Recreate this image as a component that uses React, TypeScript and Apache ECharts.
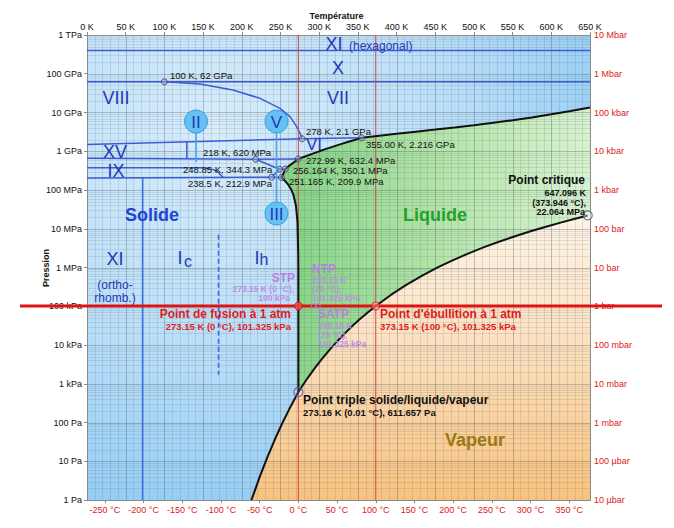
import { useEffect, useRef } from 'react';
import * as echarts from 'echarts';

const FONT = '"Liberation Sans", Arial, Helvetica, sans-serif';

// ---------- axis ticks / labels ----------
const celsiusTicks = [-250, -200, -150, -100, -50, 0, 50, 100, 150, 200, 250, 300, 350];
const pressureTicksPa = [1, 10, 100, 1e3, 1e4, 1e5, 1e6, 1e7, 1e8, 1e9, 1e10, 1e11, 1e12];
const pascalLabels = ['1 Pa', '10 Pa', '100 Pa', '1 kPa', '10 kPa', '100 kPa', '1 MPa', '10 MPa', '100 MPa', '1 GPa', '10 GPa', '100 GPa', '1 TPa'];
const barLabels = ['10 µbar', '100 µbar', '1 mbar', '10 mbar', '100 mbar', '1 bar', '10 bar', '100 bar', '1 kbar', '10 kbar', '100 kbar', '1 Mbar', '10 Mbar'];

// ---------- phase curves [T (K), P (Pa)] ----------
const sublimationCurve = [[212.3, 1], [213.15, 1.08], [223.15, 3.94], [233.15, 12.84], [243.15, 38.0], [253.15, 103.3], [263.15, 259.9], [273.16, 611.657]];
const vaporizationCurve = [[273.16, 611.657], [283.15, 1228], [293.15, 2339], [303.15, 4246], [313.15, 7384], [323.15, 12350], [333.15, 19940], [343.15, 31190], [353.15, 47410], [363.15, 70140], [373.15, 101325], [393.15, 198500], [413.15, 361400], [433.15, 618200], [453.15, 1.002e6], [473.15, 1.554e6], [493.15, 2.318e6], [513.15, 3.345e6], [533.15, 4.692e6], [553.15, 6.416e6], [573.15, 8.588e6], [593.15, 11.28e6], [613.15, 14.6e6], [633.15, 18.67e6], [647.096, 22.064e6]];
const meltingIh = [[273.16, 611.657], [273.15, 1.01e5], [273.1, 8.07e5], [273, 2.14e6], [272, 1.51e7], [270, 3.93e7], [267, 7.22e7], [264.2, 1.0e8], [260, 1.383e8], [255, 1.794e8], [251.165, 2.099e8]];
const meltingIII = [[251.165, 2.099e8], [253, 2.44e8], [255, 3.03e8], [256.164, 3.501e8]];
const meltingV = [[256.164, 3.501e8], [260, 4.03e8], [265, 4.8e8], [270, 5.68e8], [272.99, 6.324e8]];
const meltingVI = [[272.99, 6.324e8], [280, 7.12e8], [290, 8.45e8], [300, 9.96e8], [310, 1.166e9], [320, 1.357e9], [330, 1.57e9], [340, 1.809e9], [355, 2.216e9]];
const meltingVII = [[355, 2.216e9], [375, 2.473e9], [400, 2.817e9], [425, 3.194e9], [450, 3.618e9], [475, 4.11e9], [500, 4.696e9], [525, 5.411e9], [550, 6.309e9], [575, 7.461e9], [600, 8.962e9], [625, 10.94e9], [650, 13.46e9]];

// ---------- solid-solid boundaries ----------
const boundaryXIhex_X = [[0, 4.0e11], [650, 4.0e11]];
const boundaryX_VII = [[0, 6.2e10], [650, 6.2e10]];
const boundaryVII_VIII = [[100, 6.2e10], [146, 5.44e10], [188.7, 3.81e10], [223.6, 2.32e10], [249.4, 1.28e10], [262.3, 7.8e9], [271, 4.3e9], [275.3, 2.9e9], [278, 2.1e9]];
const boundaryVIII_VI = [[0, 1.5e9], [278, 2.1e9]];
const boundaryVI_VII = [[278, 2.1e9], [355, 2.216e9]];
const boundaryXV_VI = [[129, 1.75e9], [129, 6.45e8]];
const boundaryVI_V = [[0, 6.6e8], [218, 6.2e8], [272.99, 6.324e8]];
const boundaryII_V = [[218, 6.2e8], [248.85, 3.443e8]];
const boundaryIII_V = [[248.85, 3.443e8], [256.164, 3.501e8]];
const boundaryII_III = [[238.5, 2.129e8], [248.85, 3.443e8]];
const boundaryIh_III = [[238.5, 2.129e8], [251.165, 2.099e8]];
const boundaryIh_II = [[0, 2.04e8], [238.5, 2.129e8]];
const boundaryIX = [[0, 3.76e8], [150, 3.76e8], [163, 3.4e8], [170, 2.8e8], [176, 2.1e8]];
const boundaryXI_Ih = [[72, 2.06e8], [72, 1]];
const boundaryIc_Ih = [[170, 7e6], [170, 1.7e3]];

// ---------- points ----------
const solidTriplePoints = [[100, 6.2e10], [278, 2.1e9], [355, 2.216e9], [218, 6.2e8], [272.99, 6.324e8], [248.85, 3.443e8], [256.164, 3.501e8], [238.5, 2.129e8], [251.165, 2.099e8]];
const criticalPoint = [[647.096, 22.064e6]];
const triplePointSLV = [[273.16, 611.657]];
const fusionPoint1atm = [[273.15, 101325]];
const boilingPoint1atm = [[373.15, 101325]];
const ntpSatpPoints = [[293.15, 101325], [298.15, 101325]];
const isothermsK = [273.15, 373.15];
const atmospherePa = 101325;

const blueLine = '#3d5bd2';

function lineSeries(data: number[][], color: string, width: number, type: any = 'solid', z = 3) {
  return {
    type: 'line', data, xAxisIndex: 0, yAxisIndex: 0, showSymbol: false, symbol: 'none',
    silent: true, lineStyle: { color, width, type }, z, clip: false,
  };
}

function txt(text: string, x: number, y: number, size: number, color: string, weight = 'normal', align = 'left', rotation = 0) {
  return {
    type: 'text', x, y, rotation, z: 100, silent: true,
    style: {
      text, fill: color, font: `${weight} ${size}px ${FONT}`,
      align, verticalAlign: 'middle', textAlign: align, textVerticalAlign: 'middle',
    },
  };
}

function badge(label: string, cx: number, cy: number) {
  return [
    { type: 'circle', z: 90, silent: true, shape: { cx, cy, r: 11.5 }, style: { fill: '#63c2f3', stroke: '#3a9be0', lineWidth: 1 } },
    txt(label, cx, cy + 0.5, 17, '#2438b8', 'normal', 'center'),
  ];
}

function stem(x: number, y1: number, y2: number) {
  return { type: 'line', z: 89, silent: true, shape: { x1: x, y1, x2: x, y2 }, style: { stroke: '#45a6ec', lineWidth: 1.6 } };
}

export default function App() {
  const ref = useRef<HTMLDivElement>(null);

  useEffect(() => {
    if (!ref.current) return;
    const chart = echarts.init(ref.current, undefined, { renderer: 'svg' });

    const pressureFmt = (labels: string[]) => (v: number) => labels[Math.round(Math.log10(v))] ?? '';
    const axisLineStyle = { color: '#8a8a8a', width: 1 };

    const regionSeries = {
      type: 'custom', xAxisIndex: 0, yAxisIndex: 0, silent: true, z: 1, data: [[100, 100]],
      renderItem: (params: any, api: any) => {
        const cs = params.coordSys;
        const pt = (p: number[]) => api.coord(p);
        const liquid = [
          ...meltingIh, ...meltingIII.slice(1), ...meltingV.slice(1), ...meltingVI.slice(1), ...meltingVII.slice(1),
          [650, criticalPoint[0][1]], ...[...vaporizationCurve].reverse(),
        ].map(pt);
        const vapour = [...sublimationCurve, ...vaporizationCurve.slice(1), [650, criticalPoint[0][1]], [650, 1]].map(pt);
        return {
          type: 'group',
          children: [
            {
              type: 'rect', shape: { x: cs.x, y: cs.y, width: cs.width, height: cs.height },
              style: {
                fill: new echarts.graphic.RadialGradient(0.25, 0.2, 0.95, [
                  { offset: 0, color: '#d6ecfb' }, { offset: 0.5, color: '#badef8' }, { offset: 1, color: '#89c7f2' },
                ]),
              },
            },
            {
              type: 'polygon', shape: { points: liquid },
              style: {
                fill: new echarts.graphic.LinearGradient(0, 0, 1, 0, [
                  { offset: 0, color: '#84d385' }, { offset: 0.5, color: '#b2e3a8' }, { offset: 1, color: '#d6f1cf' },
                ]),
              },
            },
            {
              type: 'polygon', shape: { points: vapour },
              style: {
                fill: new echarts.graphic.LinearGradient(0, 0, 0, 1, [
                  { offset: 0, color: '#fdf3e6' }, { offset: 0.45, color: '#fbe0c0' }, { offset: 1, color: '#f7c27e' },
                ]),
              },
            },
          ],
        };
      },
    };

    const gridSeries = {
      type: 'custom', xAxisIndex: 0, yAxisIndex: 0, silent: true, z: 2, data: [[100, 100]],
      renderItem: (params: any, api: any) => {
        const cs = params.coordSys;
        const children: any[] = [];
        for (let t = 0; t <= 650; t += 10) {
          const x = Math.round(api.coord([t, 1])[0]) + 0.5;
          children.push({
            type: 'line', shape: { x1: x, y1: cs.y, x2: x, y2: cs.y + cs.height },
            style: { stroke: t % 50 === 0 ? 'rgba(60,70,80,0.30)' : 'rgba(60,70,80,0.13)', lineWidth: 1 },
          });
        }
        for (let d = 0; d < 12; d++) {
          for (let k = 1; k <= 9; k++) {
            const y = Math.round(api.coord([0, k * Math.pow(10, d)])[1]) + 0.5;
            children.push({
              type: 'line', shape: { x1: cs.x, y1: y, x2: cs.x + cs.width, y2: y },
              style: { stroke: k === 1 ? 'rgba(60,70,80,0.30)' : 'rgba(60,70,80,0.12)', lineWidth: 1 },
            });
          }
        }
        children.push({
          type: 'rect', shape: { x: cs.x + 0.5, y: cs.y + 0.5, width: cs.width, height: cs.height },
          style: { fill: 'none', stroke: '#8a8a8a', lineWidth: 1 },
        });
        return { type: 'group', children };
      },
    };

    const isobarSeries = {
      type: 'custom', xAxisIndex: 0, yAxisIndex: 0, silent: true, z: 6, data: [[0, atmospherePa]],
      renderItem: (params: any, api: any) => {
        const cs = params.coordSys;
        const y = api.coord([0, atmospherePa])[1];
        return { type: 'line', shape: { x1: cs.x - 67, y1: y, x2: cs.x + cs.width + 72, y2: y }, style: { stroke: '#dd1414', lineWidth: 3 } };
      },
    };

    const option: any = {
      animation: false,
      textStyle: { fontFamily: FONT },
      grid: { left: 87, top: 35, width: 503, height: 465, containLabel: false },
      xAxis: [
        {
          type: 'value', position: 'top', min: 0, max: 650, interval: 50,
          axisLine: { show: true, lineStyle: axisLineStyle },
          axisTick: { show: true, length: 3, lineStyle: axisLineStyle },
          axisLabel: { fontSize: 9, color: '#111', margin: 4, fontFamily: FONT, formatter: (v: number) => `${v} K` },
          splitLine: { show: false },
        },
        {
          type: 'value', position: 'bottom', min: -273.15, max: 376.85,
          axisLine: { show: true, lineStyle: axisLineStyle },
          axisTick: { show: true, length: 3, lineStyle: axisLineStyle, customValues: celsiusTicks },
          axisLabel: { fontSize: 9, color: '#dd2020', margin: 5, fontFamily: FONT, customValues: celsiusTicks, formatter: (v: number) => `${v} °C` },
          splitLine: { show: false },
        },
      ],
      yAxis: [
        {
          type: 'log', logBase: 10, min: 1, max: 1e12, position: 'left',
          axisLine: { show: true, lineStyle: axisLineStyle },
          axisTick: { show: true, length: 3, lineStyle: axisLineStyle, customValues: pressureTicksPa },
          axisLabel: { fontSize: 9, color: '#111', margin: 5, fontFamily: FONT, customValues: pressureTicksPa, formatter: pressureFmt(pascalLabels) },
          splitLine: { show: false },
        },
        {
          type: 'log', logBase: 10, min: 1, max: 1e12, position: 'right',
          axisLine: { show: true, lineStyle: axisLineStyle },
          axisTick: { show: true, length: 3, lineStyle: axisLineStyle, customValues: pressureTicksPa },
          axisLabel: { fontSize: 9, color: '#dd2020', margin: 4, fontFamily: FONT, customValues: pressureTicksPa, formatter: pressureFmt(barLabels) },
          splitLine: { show: false },
        },
      ],
      series: [
        regionSeries,
        gridSeries,
        lineSeries(boundaryXIhex_X, blueLine, 1.5),
        lineSeries(boundaryX_VII, blueLine, 1.5),
        lineSeries(boundaryVII_VIII, blueLine, 1.5),
        lineSeries(boundaryVIII_VI, blueLine, 1.5),
        lineSeries(boundaryVI_VII, blueLine, 1.5),
        lineSeries(boundaryXV_VI, blueLine, 1.5),
        lineSeries(boundaryVI_V, blueLine, 1.5),
        lineSeries(boundaryII_V, blueLine, 1.5),
        lineSeries(boundaryIII_V, blueLine, 1.5),
        lineSeries(boundaryII_III, blueLine, 1.5),
        lineSeries(boundaryIh_III, blueLine, 1.5),
        lineSeries(boundaryIh_II, blueLine, 1.5),
        lineSeries(boundaryIX, blueLine, 1.5),
        lineSeries(boundaryXI_Ih, '#3b6ee6', 1.5),
        lineSeries(boundaryIc_Ih, '#3b6ee6', 1.6, [5, 3]),
        lineSeries([[isothermsK[0], 1], [isothermsK[0], 1e12]], '#d84545', 1, 'solid', 4),
        lineSeries([[isothermsK[1], 1], [isothermsK[1], 1e12]], '#d84545', 1, 'solid', 4),
        lineSeries(sublimationCurve, '#111', 2, 'solid', 5),
        lineSeries(vaporizationCurve, '#111', 2, 'solid', 5),
        lineSeries(meltingIh, '#111', 2, 'solid', 5),
        lineSeries(meltingIII, '#111', 2, 'solid', 5),
        lineSeries(meltingV, '#111', 2, 'solid', 5),
        lineSeries(meltingVI, '#111', 2, 'solid', 5),
        lineSeries(meltingVII, '#111', 2, 'solid', 5),
        isobarSeries,
        {
          type: 'scatter', data: solidTriplePoints, symbolSize: 6, silent: true, z: 8,
          itemStyle: { color: 'rgba(150,170,205,0.6)', borderColor: '#2f3c66', borderWidth: 1 },
        },
        {
          type: 'scatter', data: criticalPoint, symbolSize: 9, silent: true, z: 8,
          itemStyle: { color: 'rgba(255,255,255,0.5)', borderColor: '#555', borderWidth: 1.2 },
        },
        {
          type: 'scatter', data: triplePointSLV, symbolSize: 9, silent: true, z: 8,
          itemStyle: { color: 'rgba(255,255,255,0.15)', borderColor: '#4a5ab0', borderWidth: 1.2 },
        },
        {
          type: 'scatter', data: fusionPoint1atm, symbolSize: 8, silent: true, z: 8,
          itemStyle: { color: '#ef4a4a', borderColor: '#cc1010', borderWidth: 1 },
        },
        {
          type: 'scatter', data: boilingPoint1atm, symbolSize: 8, silent: true, z: 8,
          itemStyle: { color: 'rgba(255,220,220,0.4)', borderColor: '#dd2222', borderWidth: 1.2 },
        },
        {
          type: 'scatter', data: ntpSatpPoints, symbolSize: 5, silent: true, z: 8,
          itemStyle: { color: 'rgba(255,255,255,0)', borderColor: '#b57edc', borderWidth: 1 },
        },
      ],
      graphic: [
        // axis titles
        txt('Température', 336.5, 16, 9, '#111', 'bold', 'center'),
        txt('Pression', 46, 268, 9, '#111', 'bold', 'center', Math.PI / 2),
        // phase badges
        stem(196, 133, 162), stem(276.5, 133, 202),
        ...badge('II', 196, 121.5), ...badge('V', 276.5, 121.5), ...badge('III', 276.5, 213.5),
        // ice phase labels
        txt('XI', 334, 44, 18, '#2438b8', 'normal', 'center'),
        txt('(hexagonal)', 349, 46, 12, '#2438b8'),
        txt('X', 338, 68, 18, '#2438b8', 'normal', 'center'),
        txt('VIII', 116, 98, 18, '#2438b8', 'normal', 'center'),
        txt('VII', 338, 98, 18, '#2438b8', 'normal', 'center'),
        txt('VI', 314, 144.5, 17, '#2438b8', 'normal', 'center'),
        txt('XV', 115, 151.5, 18, '#2438b8', 'normal', 'center'),
        txt('IX', 116, 171, 18, '#2438b8', 'normal', 'center'),
        txt('XI', 115, 258.5, 18, '#2438b8', 'normal', 'center'),
        txt('(ortho-', 115, 285, 12, '#2438b8', 'normal', 'center'),
        txt('rhomb.)', 115, 298, 12, '#2438b8', 'normal', 'center'),
        txt('I', 180, 258, 18, '#2438b8', 'normal', 'center'),
        txt('c', 188, 261, 16, '#2438b8', 'normal', 'center'),
        txt('I', 257, 257.5, 18, '#2438b8', 'normal', 'center'),
        txt('h', 264, 259, 16, '#2438b8', 'normal', 'center'),
        // state labels
        txt('Solide', 152, 214.5, 18, '#1f45d4', 'bold', 'center'),
        txt('Liquide', 435, 214.5, 18, '#22a12a', 'bold', 'center'),
        txt('Vapeur', 475, 440, 18, '#9a7812', 'bold', 'center'),
        // point labels
        txt('100 K, 62 GPa', 170, 75, 9.5, '#111'),
        txt('278 K, 2.1 GPa', 306, 131, 9.5, '#111'),
        txt('355.00 K, 2.216 GPa', 366, 144, 9.5, '#111'),
        txt('218 K, 620 MPa', 203, 152, 9.5, '#111'),
        txt('272.99 K, 632.4 MPa', 306, 160.5, 9.5, '#111'),
        txt('248.85 K, 344.3 MPa', 183, 169, 9.5, '#111'),
        txt('256.164 K, 350.1 MPa', 293, 170.5, 9.5, '#111'),
        txt('238.5 K, 212.9 MPa', 188, 183, 9.5, '#111'),
        txt('251.165 K, 209.9 MPa', 289, 181.5, 9.5, '#111'),
        // critical point
        txt('Point critique', 585, 180, 12, '#111', 'bold', 'right'),
        txt('647.096 K', 586, 192.5, 9, '#111', 'bold', 'right'),
        txt('(373.946 °C),', 586, 202.5, 9, '#111', 'bold', 'right'),
        txt('22.064 MPa', 585, 212, 9, '#111', 'bold', 'right'),
        // triple point
        txt('Point triple solide/liquide/vapeur', 303, 400, 12, '#111', 'bold'),
        txt('273.16 K (0.01 °C), 611.657 Pa', 303, 412.5, 9.5, '#111', 'bold'),
        // 1 atm points
        txt('Point de fusion à 1 atm', 291, 313.5, 12, '#e01c1c', 'bold', 'right'),
        txt('273.15 K (0 °C), 101.325 kPa', 291, 326, 9.5, '#e01c1c', 'bold', 'right'),
        txt("Point d'ébullition à 1 atm", 380, 313.5, 12, '#e01c1c', 'bold'),
        txt('373.15 K (100 °C), 101.325 kPa', 380, 326, 9.5, '#e01c1c', 'bold'),
        // STP / NTP / SATP
        txt('STP', 295, 277.5, 12, '#b97ee2', 'bold', 'right'),
        txt('273.15 K (0 °C),', 294, 288.5, 8.5, '#bd8ee4', 'bold', 'right'),
        txt('100 kPa', 290, 297.5, 8.5, '#bd8ee4', 'bold', 'right'),
        txt('NTP', 312, 268.5, 12, '#b97ee2', 'bold'),
        txt('293.15 K', 312, 279.5, 8.5, '#bd8ee4', 'bold'),
        txt('(20 °C),', 312, 288.5, 8.5, '#bd8ee4', 'bold'),
        txt('101.325 kPa', 312, 297.5, 8.5, '#bd8ee4', 'bold'),
        txt('SATP', 318, 314, 12, '#b97ee2', 'bold'),
        txt('298.15 K', 318, 325.5, 8.5, '#bd8ee4', 'bold'),
        txt('(25 °C),', 318, 334.5, 8.5, '#bd8ee4', 'bold'),
        txt('101.325 kPa', 318, 343.5, 8.5, '#bd8ee4', 'bold'),
      ],
    };

    chart.setOption(option);
    return () => chart.dispose();
  }, []);

  return <div ref={ref} style={{ width: 674, height: 528, position: 'absolute', left: 0, top: 0 }} />;
}
